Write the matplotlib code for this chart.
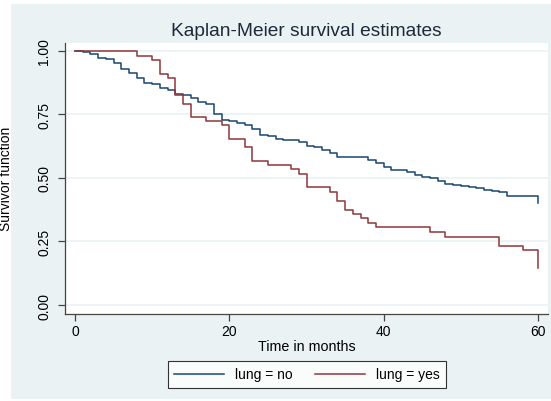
import matplotlib.pyplot as plt
from matplotlib.patches import Rectangle

# =========================
# DATA
# =========================
t_no = [0, 1, 2, 3, 4, 5, 6, 7, 8, 9, 10, 11, 12, 13, 14, 15, 16, 17, 18, 19,
        20, 21, 22, 23, 24, 25, 26, 27, 28, 29, 30, 31, 32, 33, 34, 38, 39, 40,
        41, 43, 44, 45, 46, 47, 48, 49, 50, 51, 52, 53, 54, 55, 56, 60]
s_no = [1.0, 0.993, 0.987, 0.972, 0.969, 0.952, 0.929, 0.912, 0.894, 0.874,
        0.867, 0.853, 0.846, 0.831, 0.824, 0.814, 0.798, 0.790, 0.752, 0.728,
        0.723, 0.715, 0.706, 0.693, 0.670, 0.664, 0.654, 0.650, 0.647, 0.641,
        0.627, 0.621, 0.610, 0.597, 0.581, 0.572, 0.558, 0.544, 0.531, 0.522,
        0.513, 0.503, 0.499, 0.489, 0.476, 0.472, 0.467, 0.463, 0.459, 0.454,
        0.448, 0.444, 0.430, 0.400]

t_yes = [0, 8, 10, 11, 12, 13, 14, 15, 17, 19, 20, 22, 23, 25, 28, 29, 30, 33,
         34, 35, 36, 37, 38, 39, 46, 48, 55, 58, 60]
s_yes = [1.0, 0.980, 0.965, 0.909, 0.894, 0.827, 0.790, 0.739, 0.723, 0.706,
         0.654, 0.621, 0.568, 0.551, 0.535, 0.516, 0.464, 0.446, 0.411, 0.375,
         0.358, 0.341, 0.322, 0.306, 0.289, 0.269, 0.233, 0.217, 0.146]

x_ticks = [0, 20, 40, 60]
y_ticks = [0.0, 0.25, 0.5, 0.75, 1.0]
y_tick_labels = ["0.00", "0.25", "0.50", "0.75", "1.00"]
labels = ["lung = no", "lung = yes"]

# =========================
# STYLE
# =========================
plt.rcParams["font.family"] = ["Liberation Sans", "DejaVu Sans"]
bg = "#EAF2F3"
navy = "#1A476F"
maroon = "#90353B"
axis_grey = "#444444"

W, H = 551, 402
fig = plt.figure(figsize=(W / 100, H / 100), dpi=100, facecolor="white")
# light graph region behind everything
fig.add_artist(Rectangle((11 / W, 2 / H), 1 - 11 / W, (H - 7) / H,
                         transform=fig.transFigure, facecolor=bg,
                         edgecolor="none", zorder=-10))

ax = fig.add_axes([65 / W, (H - 315) / H, (548 - 65) / W, (315 - 44) / H])
ax.set_facecolor("white")

ax.step(t_no, s_no, where="post", color=navy, lw=1.1, label=labels[0])
ax.step(t_yes, s_yes, where="post", color=maroon, lw=1.1, label=labels[1])

ax.set_xlim(-1.3, 61.3)
ax.set_ylim(-0.035, 1.03)

ax.set_xticks(x_ticks)
ax.set_yticks(y_ticks)
ax.set_yticklabels(y_tick_labels, rotation=90, va="center")
ax.tick_params(axis="both", colors=axis_grey, labelcolor="black",
               length=5, width=0.9, labelsize=10)
ax.tick_params(axis="y", pad=5)
ax.tick_params(axis="x", pad=2)
ax.yaxis.grid(True, color=bg, lw=1.2)
ax.set_axisbelow(True)

for side in ["top", "right"]:
    ax.spines[side].set_visible(False)
for side in ["left", "bottom"]:
    ax.spines[side].set_color(axis_grey)
    ax.spines[side].set_linewidth(0.9)

ax.set_xlabel("Time in months", fontsize=10.3, labelpad=1)
fig.text(6 / W, (H - 179) / H, "Survivor function", rotation=90,
         ha="center", va="center", fontsize=10)
fig.text((65 + 548) / 2 / W, (H - 32) / H, "Kaplan-Meier survival estimates",
         ha="center", va="center", fontsize=13.8, color="#1E2A3A")

leg = fig.legend(loc="center", bbox_to_anchor=(307 / W, (H - 375.5) / H),
                 ncol=2, fontsize=10, frameon=True, fancybox=False,
                 handlelength=3.6, columnspacing=1.6, borderpad=0.45)
leg.get_frame().set_edgecolor("black")
leg.get_frame().set_linewidth(0.8)

fig.savefig("out.png", dpi=100, facecolor=fig.get_facecolor())
